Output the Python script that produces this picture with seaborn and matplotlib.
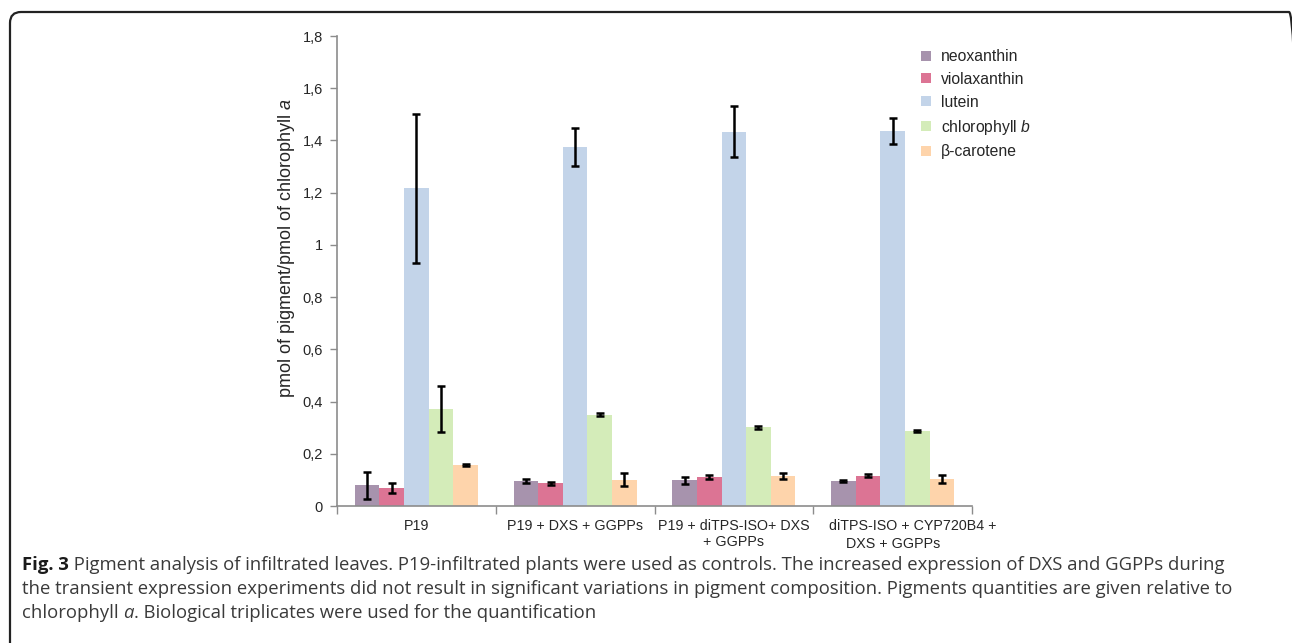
import numpy as np
import pandas as pd
import seaborn as sns
import matplotlib.pyplot as plt
from matplotlib.lines import Line2D
from matplotlib.patches import FancyBboxPatch
from matplotlib.ticker import FixedLocator, FuncFormatter
from matplotlib.transforms import offset_copy

# data
groups = ["P19", "P19 + DXS + GGPPs", "P19 + diTPS-ISO+ DXS\n+ GGPPs",
          "diTPS-ISO + CYP720B4 +\nDXS + GGPPs"]
pigments = ["neoxanthin", "violaxanthin", "lutein", "chlorophyll b", "β-carotene"]
legend_labels = ["neoxanthin", "violaxanthin", "lutein",
                 r"chlorophyll $\mathit{b}$", "β-carotene"]

neoxanthin = [0.080, 0.097, 0.098, 0.097]
neoxanthin_err = [0.052, 0.008, 0.012, 0.004]
violaxanthin = [0.070, 0.087, 0.110, 0.116]
violaxanthin_err = [0.019, 0.006, 0.007, 0.006]
lutein = [1.217, 1.375, 1.433, 1.437]
lutein_err = [0.286, 0.072, 0.097, 0.050]
chlorophyll_b = [0.373, 0.349, 0.301, 0.286]
chlorophyll_b_err = [0.088, 0.006, 0.005, 0.004]
beta_carotene = [0.157, 0.100, 0.115, 0.103]
beta_carotene_err = [0.002, 0.025, 0.013, 0.015]

colors = ["#A793AD", "#DC7494", "#C3D4E9", "#D4ECB9", "#FED4AB"]

values = [neoxanthin, violaxanthin, lutein, chlorophyll_b, beta_carotene]
errors = [neoxanthin_err, violaxanthin_err, lutein_err, chlorophyll_b_err, beta_carotene_err]

rows = []
for p, vals, errs in zip(pigments, values, errors):
    for g, v, e in zip(groups, vals, errs):
        rows.append({"group": g, "pigment": p, "value": v, "err": e})
df = pd.DataFrame(rows)

sns.set_style("white")
plt.rcParams["font.family"] = ["Liberation Sans", "DejaVu Sans"]
plt.rcParams["mathtext.fontset"] = "custom"
plt.rcParams["mathtext.rm"] = "Liberation Sans"
plt.rcParams["mathtext.it"] = "Liberation Sans:italic"

W, H = 1292, 643
fig = plt.figure(figsize=(W / 100, H / 100), dpi=100)
ax = fig.add_axes([337 / W, (H - 506) / H, (972 - 337) / W, (506 - 36) / H])

sns.barplot(data=df, x="group", y="value", hue="pigment", order=groups,
            hue_order=pigments, palette=colors, width=0.775, gap=0,
            saturation=1, errorbar=None, linewidth=0, legend=False, ax=ax)

# error bars placed on the drawn bars
for cont, errs in zip(ax.containers, errors):
    xs = [b.get_x() + b.get_width() / 2 for b in cont]
    ys = [b.get_height() for b in cont]
    ax.errorbar(xs, ys, yerr=errs, fmt="none", ecolor="black",
                elinewidth=1.8, capsize=3, capthick=1.8, zorder=5)

ax.set_ylim(0, 1.8)
ax.set_xlim(-0.5, len(groups) - 0.5)
ax.set_yticks(np.arange(0, 1.81, 0.2))
ax.yaxis.set_major_formatter(FuncFormatter(
    lambda v, _: ("%g" % round(v, 1)).replace(".", ",")))
ax.tick_params(axis="y", direction="out", length=5, width=1, color="#8c8c8c",
               labelsize=10.5, pad=5, left=True)

# the wrapped first line of the last label sits right of centre in the original,
# so both of its lines are drawn as separate texts
lab_size = 10.3
lab_pad = 9
first_line, second_line = groups[-1].split("\n", 1)
xlabels = list(groups)
xlabels[-1] = ""
ax.set_xticks(range(len(groups)))
ax.set_xticklabels(xlabels)
ax.tick_params(axis="x", which="major", length=0, labelsize=lab_size, pad=lab_pad)
ax.xaxis.set_minor_locator(FixedLocator(np.arange(-0.5, len(groups), 1.0)))
ax.tick_params(axis="x", which="minor", direction="out", length=6, width=1,
               color="#8c8c8c", bottom=True)
for lab in ax.get_xticklabels():
    lab.set_linespacing(1.25)
pad_px = lab_pad * 100 / 72
for line, dx, dy in [(first_line, 20, 0), (second_line, 0, 18)]:
    tr = offset_copy(ax.get_xaxis_transform(), fig=fig, x=dx, y=-pad_px - dy,
                     units="dots")
    ax.text(len(groups) - 1, 0, line, transform=tr, ha="center", va="top",
            fontsize=lab_size, clip_on=False)

for s in ["top", "right"]:
    ax.spines[s].set_visible(False)
for s in ["left", "bottom"]:
    ax.spines[s].set_color("#8c8c8c")
    ax.spines[s].set_linewidth(1.2)

ax.set_xlabel("")
ax.set_ylabel(r"pmol of pigment/pmol of chlorophyll $\mathit{a}$", fontsize=13)
ax.yaxis.set_label_coords((297 - 337) / 635, (506 - 248) / 470)

handles = [Line2D([], [], marker="s", linestyle="none", markersize=6.5,
                  markerfacecolor=c, markeredgewidth=0) for c in colors]
fig.legend(handles, legend_labels, loc="upper left",
           bbox_to_anchor=(921 / W, (H - 49) / H), frameon=False,
           fontsize=11.3, handlelength=0.7, handletextpad=0.55,
           labelspacing=0.5, borderpad=0, borderaxespad=0)

# rounded frame around the figure panel (right side runs off the picture)
frame = FancyBboxPatch((10, -40), 1290, 671,
                       boxstyle="round,pad=0,rounding_size=11",
                       transform=None, fill=False, edgecolor="#222222",
                       linewidth=1.6)
fig.add_artist(frame)

# caption, composed piece by piece
cap_font = ["Open Sans", "DejaVu Sans"]
cap_size = 13.3
cap_color = "#3a3a3a"
renderer = fig.canvas.get_renderer()


def put_pieces(x, y, pieces):
    for txt, kw in pieces:
        t = fig.text(x / W, (H - y) / H, txt, fontsize=cap_size,
                     family=cap_font, color=kw.get("color", cap_color),
                     weight=kw.get("weight", "normal"),
                     style=kw.get("style", "normal"), va="baseline", ha="left")
        x = t.get_window_extent(renderer).x1


put_pieces(22, 570, [("Fig. 3", {"weight": "bold", "color": "#1a1a1a"}),
                     (" Pigment analysis of infiltrated leaves. P19-infiltrated plants were used as controls. "
                      "The increased expression of DXS and GGPPs during", {})])
put_pieces(22, 594, [("the transient expression experiments did not result in significant variations in "
                      "pigment composition. Pigments quantities are given relative to", {})])
put_pieces(22, 618, [("chlorophyll ", {}), ("a", {"style": "italic"}),
                     (". Biological triplicates were used for the quantification", {})])

fig.savefig("out.png", dpi=100)
